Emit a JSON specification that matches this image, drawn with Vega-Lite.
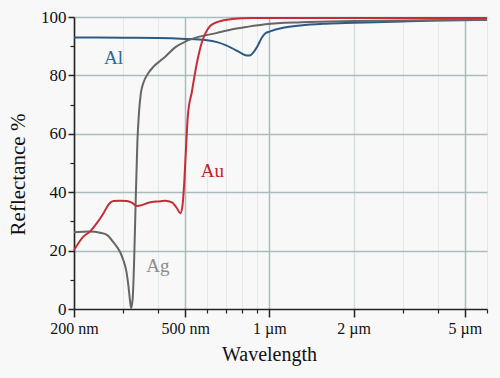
{
  "$schema": "https://vega.github.io/schema/vega-lite/v6.json",
  "width": 413,
  "height": 292,
  "autosize": "none",
  "padding": {"left": 74, "top": 17, "right": 13, "bottom": 69},
  "background": "#f8f8f8",
  "config": {
    "view": {"stroke": null},
    "font": "Liberation Serif",
    "axis": {"labelFont": "Liberation Serif", "titleFont": "Liberation Serif"},
    "text": {"font": "Liberation Serif"}
  },
  "datasets": {
    "curves": [
      {"metal": "Al", "wavelength": 200, "reflectance": 93.0},
      {"metal": "Al", "wavelength": 300, "reflectance": 92.9},
      {"metal": "Al", "wavelength": 400, "reflectance": 92.8},
      {"metal": "Al", "wavelength": 500, "reflectance": 92.5},
      {"metal": "Al", "wavelength": 590, "reflectance": 92.1},
      {"metal": "Al", "wavelength": 650, "reflectance": 91.4},
      {"metal": "Al", "wavelength": 700, "reflectance": 90.3},
      {"metal": "Al", "wavelength": 760, "reflectance": 88.6},
      {"metal": "Al", "wavelength": 800, "reflectance": 87.4},
      {"metal": "Al", "wavelength": 830, "reflectance": 86.8},
      {"metal": "Al", "wavelength": 850, "reflectance": 86.8},
      {"metal": "Al", "wavelength": 875, "reflectance": 87.8},
      {"metal": "Al", "wavelength": 906, "reflectance": 90.0},
      {"metal": "Al", "wavelength": 940, "reflectance": 93.0},
      {"metal": "Al", "wavelength": 970, "reflectance": 94.5},
      {"metal": "Al", "wavelength": 1000, "reflectance": 95.0},
      {"metal": "Al", "wavelength": 1120, "reflectance": 96.3},
      {"metal": "Al", "wavelength": 1290, "reflectance": 97.1},
      {"metal": "Al", "wavelength": 1600, "reflectance": 97.7},
      {"metal": "Al", "wavelength": 2000, "reflectance": 98.0},
      {"metal": "Al", "wavelength": 3000, "reflectance": 98.5},
      {"metal": "Al", "wavelength": 4000, "reflectance": 98.8},
      {"metal": "Al", "wavelength": 6000, "reflectance": 99.0},
      {"metal": "Ag", "wavelength": 200, "reflectance": 26.3},
      {"metal": "Ag", "wavelength": 228, "reflectance": 26.5},
      {"metal": "Ag", "wavelength": 248, "reflectance": 26.1},
      {"metal": "Ag", "wavelength": 263, "reflectance": 25.3},
      {"metal": "Ag", "wavelength": 276, "reflectance": 23.0},
      {"metal": "Ag", "wavelength": 292, "reflectance": 19.6},
      {"metal": "Ag", "wavelength": 300, "reflectance": 16.8},
      {"metal": "Ag", "wavelength": 308, "reflectance": 12.8},
      {"metal": "Ag", "wavelength": 313, "reflectance": 8.0},
      {"metal": "Ag", "wavelength": 317, "reflectance": 3.1},
      {"metal": "Ag", "wavelength": 320, "reflectance": 0.3},
      {"metal": "Ag", "wavelength": 324, "reflectance": 3.1},
      {"metal": "Ag", "wavelength": 328, "reflectance": 15.7},
      {"metal": "Ag", "wavelength": 332, "reflectance": 35.0},
      {"metal": "Ag", "wavelength": 337, "reflectance": 57.0},
      {"metal": "Ag", "wavelength": 342, "reflectance": 68.0},
      {"metal": "Ag", "wavelength": 347, "reflectance": 74.0},
      {"metal": "Ag", "wavelength": 354, "reflectance": 77.4},
      {"metal": "Ag", "wavelength": 369, "reflectance": 80.8},
      {"metal": "Ag", "wavelength": 385, "reflectance": 83.0},
      {"metal": "Ag", "wavelength": 407, "reflectance": 85.0},
      {"metal": "Ag", "wavelength": 424, "reflectance": 86.4},
      {"metal": "Ag", "wavelength": 460, "reflectance": 89.6},
      {"metal": "Ag", "wavelength": 500, "reflectance": 91.6},
      {"metal": "Ag", "wavelength": 557, "reflectance": 93.2},
      {"metal": "Ag", "wavelength": 640, "reflectance": 94.4},
      {"metal": "Ag", "wavelength": 737, "reflectance": 95.8},
      {"metal": "Ag", "wavelength": 841, "reflectance": 96.7},
      {"metal": "Ag", "wavelength": 968, "reflectance": 97.5},
      {"metal": "Ag", "wavelength": 1300, "reflectance": 98.2},
      {"metal": "Ag", "wavelength": 2000, "reflectance": 98.6},
      {"metal": "Ag", "wavelength": 3000, "reflectance": 98.8},
      {"metal": "Ag", "wavelength": 6000, "reflectance": 99.0},
      {"metal": "Au", "wavelength": 200, "reflectance": 20.2},
      {"metal": "Au", "wavelength": 216, "reflectance": 24.8},
      {"metal": "Au", "wavelength": 228, "reflectance": 26.5},
      {"metal": "Au", "wavelength": 241, "reflectance": 29.3},
      {"metal": "Au", "wavelength": 255, "reflectance": 32.8},
      {"metal": "Au", "wavelength": 265, "reflectance": 35.6},
      {"metal": "Au", "wavelength": 277, "reflectance": 37.0},
      {"metal": "Au", "wavelength": 292, "reflectance": 37.1},
      {"metal": "Au", "wavelength": 309, "reflectance": 37.0},
      {"metal": "Au", "wavelength": 322, "reflectance": 36.4},
      {"metal": "Au", "wavelength": 336, "reflectance": 35.3},
      {"metal": "Au", "wavelength": 350, "reflectance": 35.6},
      {"metal": "Au", "wavelength": 369, "reflectance": 36.4},
      {"metal": "Au", "wavelength": 407, "reflectance": 36.9},
      {"metal": "Au", "wavelength": 424, "reflectance": 37.1},
      {"metal": "Au", "wavelength": 448, "reflectance": 36.5},
      {"metal": "Au", "wavelength": 467, "reflectance": 34.5},
      {"metal": "Au", "wavelength": 480, "reflectance": 32.8},
      {"metal": "Au", "wavelength": 489, "reflectance": 35.6},
      {"metal": "Au", "wavelength": 496, "reflectance": 43.6},
      {"metal": "Au", "wavelength": 503, "reflectance": 55.0},
      {"metal": "Au", "wavelength": 511, "reflectance": 66.4},
      {"metal": "Au", "wavelength": 528, "reflectance": 74.4},
      {"metal": "Au", "wavelength": 543, "reflectance": 81.3},
      {"metal": "Au", "wavelength": 558, "reflectance": 87.0},
      {"metal": "Au", "wavelength": 574, "reflectance": 91.5},
      {"metal": "Au", "wavelength": 590, "reflectance": 94.4},
      {"metal": "Au", "wavelength": 615, "reflectance": 97.0},
      {"metal": "Au", "wavelength": 658, "reflectance": 98.4},
      {"metal": "Au", "wavelength": 735, "reflectance": 99.3},
      {"metal": "Au", "wavelength": 867, "reflectance": 99.7},
      {"metal": "Au", "wavelength": 2000, "reflectance": 99.7},
      {"metal": "Au", "wavelength": 6000, "reflectance": 99.7}
    ],
    "labels": [
      {"metal": "Al", "wavelength": 277, "reflectance": 85.8},
      {"metal": "Ag", "wavelength": 399, "reflectance": 14.6},
      {"metal": "Au", "wavelength": 625, "reflectance": 47.3}
    ]
  },
  "layer": [
    {
      "data": {"name": "curves"},
      "mark": {"type": "line", "strokeWidth": 2, "interpolate": "monotone"},
      "encoding": {
        "x": {
          "field": "wavelength", "type": "quantitative",
          "scale": {"type": "log", "domain": [200, 6000], "nice": false},
          "axis": {
            "orient": "bottom",
            "values": [200, 500, 1000, 2000, 5000],
            "labelExpr": "datum.value < 1000 ? datum.value + ' nm' : (datum.value / 1000) + ' µm'",
            "title": "Wavelength",
            "titleFont": "Liberation Serif", "labelFont": "Liberation Serif",
            "titleFontSize": 20, "titleFontWeight": "normal", "titleColor": "#111",
            "titleX": 195, "titlePadding": 8,
            "labelFontSize": 16, "labelColor": "#111", "labelPadding": 3,
            "labelFlush": false, "labelOverlap": false,
            "tickSize": 8, "tickColor": "#222", "tickWidth": 1.5,
            "domainColor": "#222", "domainWidth": 1.5,
            "grid": true,
            "gridColor": {"condition": {"test": "datum.value == 2000", "value": "#d6dede"}, "value": "#a9bcbc"},
            "gridWidth": 1.5
          }
        },
        "y": {
          "field": "reflectance", "type": "quantitative",
          "scale": {"domain": [0, 100], "nice": false},
          "axis": {
            "orient": "left",
            "values": [0, 20, 40, 60, 80, 100],
            "title": "Reflectance %",
            "titleFont": "Liberation Serif", "labelFont": "Liberation Serif",
            "titleFontSize": 21, "titleFontWeight": "normal", "titleColor": "#111",
            "titleY": 157, "titlePadding": 12,
            "labelFontSize": 17, "labelColor": "#111", "labelPadding": 2,
            "tickSize": 6, "tickColor": "#222", "tickWidth": 1.5,
            "domainColor": "#222", "domainWidth": 1.5,
            "grid": true,
            "gridColor": {"condition": {"test": "datum.value == 0", "value": "transparent"}, "value": "#a9bcbc"},
            "gridWidth": 1.5
          }
        },
        "color": {
          "field": "metal", "type": "nominal",
          "scale": {"domain": ["Al", "Ag", "Au"], "range": ["#2d5a84", "#666666", "#c62c36"]},
          "legend": null
        }
      }
    },
    {
      "data": {"name": "labels"},
      "mark": {"type": "text", "fontSize": 19, "align": "center", "baseline": "middle", "font": "Liberation Serif"},
      "encoding": {
        "x": {
          "field": "wavelength", "type": "quantitative",
          "axis": {
            "orient": "bottom",
            "values": [300, 400, 600, 700, 800, 900, 3000, 4000, 6000],
            "labels": false, "title": null, "domain": false,
            "tickSize": 4, "tickColor": "#222", "tickWidth": 1.2,
            "grid": true, "gridColor": "#e3e8e8", "gridWidth": 1
          }
        },
        "y": {
          "field": "reflectance", "type": "quantitative",
          "axis": {
            "orient": "left",
            "values": [10, 30, 50, 70, 90],
            "labels": false, "title": null, "domain": false,
            "tickSize": 4, "tickColor": "#222", "tickWidth": 1.2,
            "grid": false
          }
        },
        "text": {"field": "metal", "type": "nominal"},
        "color": {
          "field": "metal", "type": "nominal",
          "scale": {"domain": ["Al", "Ag", "Au"], "range": ["#2f6a90", "#8c8c8c", "#c0202a"]},
          "legend": null
        }
      }
    }
  ],
  "resolve": {
    "axis": {"x": "independent", "y": "independent"},
    "scale": {"color": "independent"}
  }
}
